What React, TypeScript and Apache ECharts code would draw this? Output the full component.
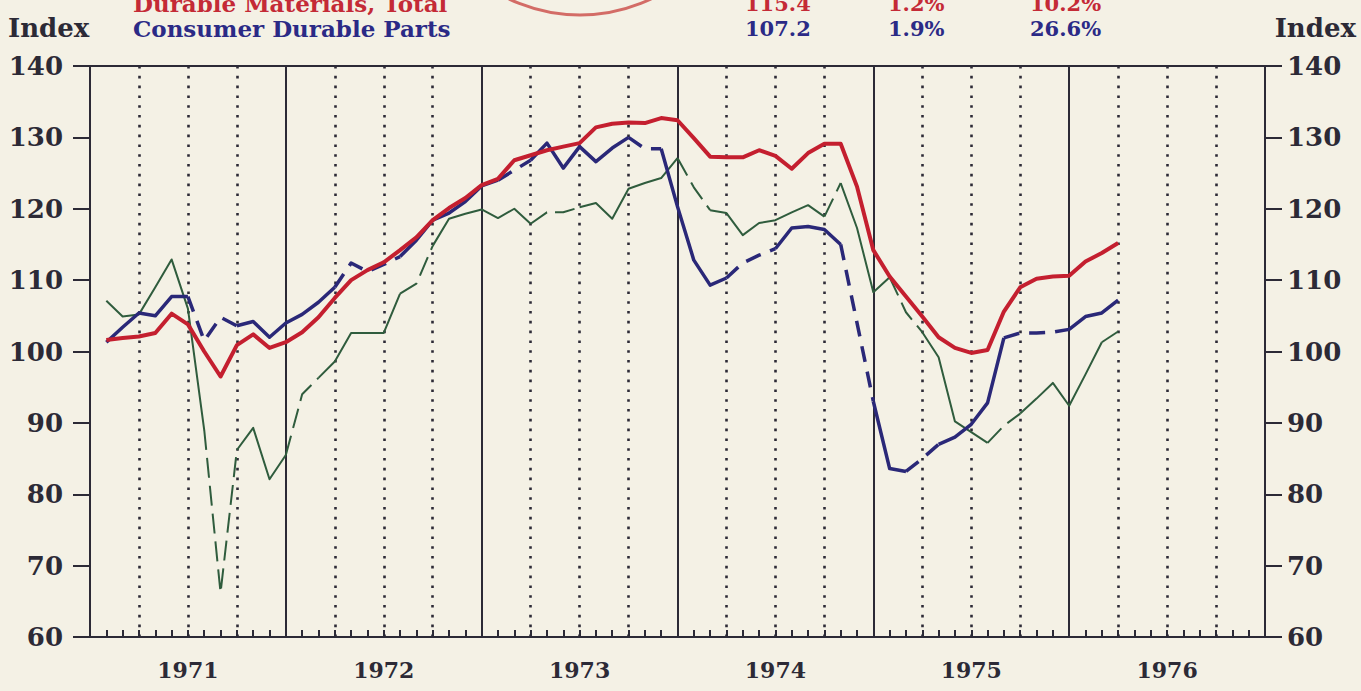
import { useEffect, useRef } from "react";
import * as echarts from "echarts";

// ---------- data ----------
const yearLabels = ["1971", "1972", "1973", "1974", "1975", "1976"];
const lastYear = "1977";

// month positions Jan 1971 .. Jan 1977
const months: string[] = [];
yearLabels.forEach((y) => {
  for (let m = 1; m <= 12; m++) months.push(`${y}-${String(m).padStart(2, "0")}`);
});
months.push(`${lastYear}-01`);

const firstMonth = "1971-02";

// Durable Materials, Total (red) Feb 1971 .. Apr 1976
const durableMaterials = [
  101.6, 101.9, 102.1, 102.6, 105.3, 103.8, 100.0, 96.5, 100.9, 102.4, 100.5,
  101.3, 102.7, 104.8, 107.5, 110.0, 111.4, 112.5, 114.2, 116.0, 118.4, 120.1, 121.5,
  123.3, 124.2, 126.8, 127.5, 128.2, 128.7, 129.2, 131.4, 131.9, 132.1, 132.0, 132.7,
  132.4, 129.9, 127.3, 127.2, 127.2, 128.2, 127.4, 125.6, 127.8, 129.1, 129.1, 123.1,
  114.2, 110.5, 107.7, 104.9, 102.0, 100.5, 99.8, 100.2, 105.6, 109.0, 110.2, 110.5,
  110.6, 112.6, 113.8, 115.2,
];

// Consumer Durable Parts (blue)
const consumerParts = [
  101.3, 103.4, 105.4, 105.0, 107.7, 107.7, 101.5, 104.8, 103.6, 104.2, 102.0,
  104.0, 105.2, 106.9, 109.0, 112.4, 111.2, 112.2, 113.3, 115.6, 118.4, 119.4, 121.0,
  123.2, 124.0, 125.4, 126.8, 129.2, 125.7, 128.7, 126.6, 128.5, 130.0, 128.4, 128.4,
  120.3, 112.8, 109.3, 110.3, 112.4, 113.5, 114.4, 117.3, 117.5, 117.1, 115.0, 104.0,
  93.0, 83.6, 83.2, 85.0, 87.0, 88.0, 89.8, 92.8, 101.9, 102.6, 102.6, 102.7,
  103.1, 104.9, 105.4, 107.2,
];

// third series (green)
const otherParts = [
  107.1, 104.9, 105.2, 109.0, 112.9, 106.0, 89.0, 66.2, 86.2, 89.3, 82.1,
  85.5, 94.0, 96.3, 98.6, 102.6, 102.6, 102.6, 108.1, 109.5, 114.8, 118.6, 119.3,
  119.9, 118.7, 120.0, 117.9, 119.5, 119.5, 120.2, 120.8, 118.6, 122.8, 123.6, 124.3,
  127.1, 123.0, 119.8, 119.4, 116.3, 118.0, 118.4, 119.5, 120.5, 118.9, 123.6, 117.3,
  108.3, 110.4, 105.5, 102.7, 99.2, 90.2, 88.7, 87.2, 89.6, 91.3, 93.4, 95.6,
  92.4, 96.8, 101.3, 102.8,
];

// dashed (estimated) stretches, first month .. last month
const consumerDashed = [
  ["1971-07", "1971-10"], ["1972-04", "1972-08"], ["1973-02", "1973-04"],
  ["1973-10", "1973-12"], ["1974-04", "1974-07"], ["1974-11", "1975-01"],
  ["1975-03", "1975-05"], ["1975-09", "1976-01"],
];
const otherDashed = [
  ["1971-08", "1971-10"], ["1972-01", "1972-03"], ["1972-08", "1972-10"],
  ["1973-04", "1973-07"], ["1974-01", "1974-03"], ["1974-10", "1974-11"],
  ["1975-02", "1975-04"], ["1975-08", "1975-10"], ["1976-03", "1976-04"],
];

// header texts
const legendRows = [
  { name: "Durable Materials, Total", level: "115.4", month: "1.2%", year: "10.2%", color: "#c42a36" },
  { name: "Consumer Durable Parts", level: "107.2", month: "1.9%", year: "26.6%", color: "#2b2a86" },
];

// ---------- helpers ----------
const INK = "#2c2a36";
const SERIF = '"DejaVu Serif", "Liberation Serif", serif';

function buildRuns(values: number[], dashed: string[][]) {
  const off = months.indexOf(firstMonth);
  const ranges = dashed.map(([a, b]) => [months.indexOf(a), months.indexOf(b)]);
  const segDashed = (k: number) => {
    const s = k + off;
    const e = k + off + 1;
    return ranges.some(([a, b]) => a <= s && e <= b);
  };
  const runs: { dashed: boolean; data: [string, number][] }[] = [];
  let start = 0;
  for (let k = 0; k < values.length - 1; k++) {
    const d = segDashed(k);
    const last = k === values.length - 2;
    const nextDiff = !last && segDashed(k + 1) !== d;
    if (last || nextDiff) {
      const data: [string, number][] = [];
      for (let i = start; i <= k + 1; i++) data.push([months[i + off], values[i]]);
      runs.push({ dashed: d, data });
      start = k + 1;
    }
  }
  return runs;
}

function lineSeries(values: number[], dashed: string[][], color: string, width: number, dash: number[], z: number) {
  return buildRuns(values, dashed).map((r) => ({
    type: "line",
    data: r.data,
    symbol: "none",
    showSymbol: false,
    silent: true,
    z,
    lineStyle: { color, width, type: r.dashed ? dash : "solid", join: "round", cap: "butt" },
  }));
}

export default function App() {
  const ref = useRef<HTMLDivElement>(null);
  useEffect(() => {
    if (!ref.current) return;
    const chart = echarts.init(ref.current, undefined, { renderer: "svg" });

    const headerTexts: any[] = [];
    const rowY = [3, 28];
    legendRows.forEach((row, i) => {
      const y = rowY[i];
      headerTexts.push(
        { type: "text", x: 133, y, style: { text: row.name, font: `bold 23px ${SERIF}`, fill: row.color, align: "left", verticalAlign: "middle" } },
        { type: "text", x: 745, y, style: { text: row.level, font: `bold 21px ${SERIF}`, fill: row.color, align: "left", verticalAlign: "middle" } },
        { type: "text", x: 888, y, style: { text: row.month, font: `bold 21px ${SERIF}`, fill: row.color, align: "left", verticalAlign: "middle" } },
        { type: "text", x: 1030, y, style: { text: row.year, font: `bold 21px ${SERIF}`, fill: row.color, align: "left", verticalAlign: "middle" } }
      );
    });

    const yAxisCommon = {
      type: "value",
      min: 60,
      max: 140,
      interval: 10,
      axisLine: { show: true, lineStyle: { color: INK, width: 2 } },
      axisTick: { show: true, length: 17, lineStyle: { color: INK, width: 2 } },
      splitLine: { show: false },
      axisLabel: { color: INK, fontFamily: SERIF, fontWeight: "bold", fontSize: 26 },
    };

    const option: any = {
      animation: false,
      backgroundColor: "#f4f1e5",
      grid: { left: 90, right: 96, top: 66, bottom: 54, show: true, borderColor: INK, borderWidth: 2 },
      xAxis: [
        {
          type: "category",
          data: months,
          boundaryGap: false,
          axisLine: { show: true, lineStyle: { color: INK, width: 2 } },
          axisTick: { show: true, inside: true, length: 7, interval: 0, lineStyle: { color: INK, width: 2 } },
          axisLabel: {
            interval: (i: number) => i % 12 === 6,
            formatter: (v: string) => v.slice(0, 4),
            color: INK,
            fontFamily: SERIF,
            fontWeight: "bold",
            fontSize: 22,
            margin: 22,
          },
          splitLine: {
            show: true,
            interval: (i: number) => i % 3 === 0 && i % 12 !== 0,
            lineStyle: { color: INK, width: 2.6, type: [2.6, 7.2] },
          },
        },
        {
          type: "category",
          data: months,
          boundaryGap: false,
          axisLine: { show: false },
          axisTick: { show: false },
          axisLabel: { show: false },
          splitLine: {
            show: true,
            interval: (i: number) => i % 12 === 0 && i !== 0 && i !== months.length - 1,
            lineStyle: { color: INK, width: 2 },
          },
        },
      ],
      yAxis: [
        { ...yAxisCommon, position: "left", axisLabel: { ...yAxisCommon.axisLabel, margin: 27 } },
        { ...yAxisCommon, position: "right", axisLabel: { ...yAxisCommon.axisLabel, margin: 22 } },
      ],
      series: [
        ...lineSeries(otherParts, otherDashed, "#2f5c3d", 2, [20, 8], 3),
        ...lineSeries(consumerParts, consumerDashed, "#2a2878", 3.5, [16, 10], 4),
        ...lineSeries(durableMaterials, [], "#c41f2f", 4, [1, 0], 5),
      ],
      graphic: [
        { type: "text", x: 8, y: 28, style: { text: "Index", font: `bold 26px ${SERIF}`, fill: INK, align: "left", verticalAlign: "middle" } },
        { type: "text", x: 1356, y: 28, style: { text: "Index", font: `bold 26px ${SERIF}`, fill: INK, align: "right", verticalAlign: "middle" } },
        ...headerTexts,
        {
          type: "arc",
          shape: { cx: 580, cy: -150, r: 165, startAngle: 0, endAngle: Math.PI },
          style: { stroke: "#cc5550", lineWidth: 3, fill: "none", opacity: 0.85 },
        },
      ],
    };
    chart.setOption(option);
    return () => chart.dispose();
  }, []);
  return <div ref={ref} style={{ position: "fixed", left: 0, top: 0, width: 1361, height: 691 }} />;
}
